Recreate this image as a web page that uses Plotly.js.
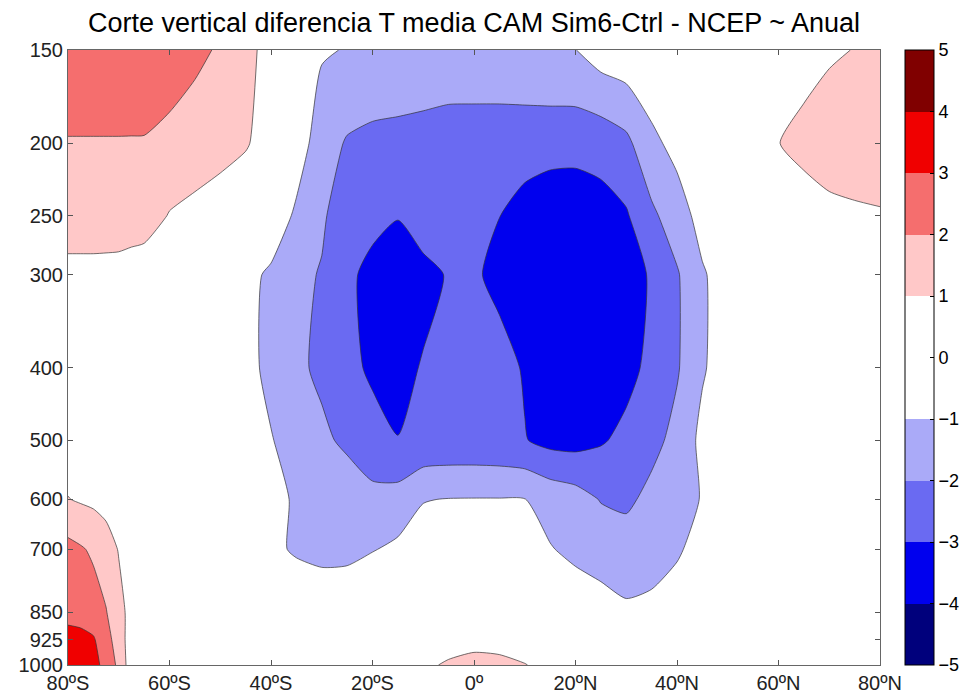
<!DOCTYPE html>
<html>
<head>
<meta charset="utf-8">
<script src="https://cdn.plot.ly/plotly-3.0.1.min.js"></script>
<style>html,body{margin:0;padding:0;background:#fff;}#chart{width:971px;height:695px;}</style>
</head>
<body>
<div id="chart"></div>
<script>
// Latitudes (negative = S, positive = N)
const latitudes = [-80, -77.5, -75, -72.5, -70, -67.5, -65, -60, -55, -50, -45, -40, -35, -30, -25, -20, -15, -10, -5, 0, 5, 10, 15, 20, 25, 30, 35, 40, 45, 50, 55, 60, 65, 70, 75, 80];
// Pressure levels (hPa)
const levels = [150, 200, 250, 300, 400, 500, 600, 700, 850, 925, 1000];

// Temperature difference (K), one row per pressure level
const t150  = [2.7, 2.7, 2.7, 2.65, 2.6, 2.55, 2.5, 2.3, 2.2, 1.9, 1.25, 0.7, 0.3, -0.9, -1.05, -1.15, -1.2, -1.25, -1.3, -1.3, -1.3, -1.25, -1.2, -1.02, -0.5, -0.3, -0.2, 0, 0.2, 0.35, 0.45, 0.5, 0.6, 0.9, 1.02, 1.3];
const t200  = [1.944, 1.944, 1.944, 1.948, 1.952, 1.953, 1.954, 1.85, 1.57, 1.35, 1.1, 0.5, -0.47, -1.53, -2.09, -2.26, -2.32, -2.4, -2.5, -2.51, -2.51, -2.52, -2.53, -2.63, -2.6, -2.24, -1.23, -0.7, -0.4, 0, 0.5, 0.98, 1.3, 1.4, 1.45, 1.5];
const t250  = [1.6, 1.6, 1.6, 1.6, 1.6, 1.57, 1.54, 0.94, 0.72, 0.5, 0.2, -0.3, -1.175, -1.85, -2.6, -2.65, -2.95, -2.3, -2.4, -2.6, -2.98, -3.4, -3.8, -3.7, -3.4, -3.1, -2.2, -1.45, -0.65, -0.2, 0.1, 0.3, 0.5, 0.8, 0.88, 0.93];
const t300  = [0.67, 0.67, 0.67, 0.65, 0.62, 0.5, 0.39, 0.2, 0.1, 0, -0.7, -1.17, -1.75, -2.07, -2.75, -3.35, -3.6, -3.4, -2.9, -2.85, -3.3, -3.8, -3.85, -3.85, -3.7, -3.4, -2.9, -2.1, -1.1, -0.55, -0.3, -0.1, 0, 0.2, 0.3, 0.4];
const t400  = [0.3, 0.3, 0.3, 0.28, 0.25, 0.22, 0.2, 0.1, 0, -0.2, -0.7, -1.25, -1.8, -2.2, -2.7, -3.18, -3.4, -2.9, -2.5, -2.4, -2.6, -3.1, -3.6, -3.8, -3.7, -3.3, -2.75, -2.1, -1.1, -0.5, -0.3, -0.1, 0, 0.1, 0.2, 0.2];
const t500  = [0.5, 0.47, 0.45, 0.4, 0.35, 0.3, 0.25, 0.15, 0.05, -0.1, -0.4, -0.95, -1.4, -1.8, -2.2, -2.6, -2.97, -2.8, -2.75, -2.75, -2.8, -2.95, -3.3, -3.35, -3.1, -2.75, -2.3, -1.7, -0.75, -0.3, -0.1, 0, 0.1, 0.2, 0.3, 0.3];
const t600  = [1.03, 0.9, 0.8, 0.65, 0.5, 0.4, 0.3, 0.1, 0, -0.1, -0.2, -0.75, -1.1, -1.35, -1.4, -1.73, -1.6, -1.035, -0.97, -0.96, -0.96, -0.98, -1.33, -1.57, -2.05, -2.2, -1.72, -1.35, -0.95, -0.5, -0.3, -0.1, 0, 0.1, 0.2, 0.2];
const t700  = [2.3, 2.1, 1.85, 1.45, 0.95, 0.7, 0.6, 0.4, 0.2, 0.1, -0.3, -0.7, -1.17, -1.4, -1.35, -1.05, -0.8, -0.6, -0.5, -0.45, -0.5, -0.7, -0.95, -1.2, -1.4, -1.5, -1.45, -1.1, -0.7, -0.4, -0.2, -0.1, 0, 0.1, 0.1, 0.1];
const t850  = [2.65, 2.6, 2.43, 2.05, 1.3, 0.7, 0.45, 0.3, 0.2, 0.1, 0.05, 0, 0.1, 0, 0, 0.1, 0.1, 0.1, 0.15, 0.2, 0.2, 0.1, -0.2, -0.46, -0.62, -0.86, -0.74, -0.6, -0.3, -0.2, -0.1, 0, 0.05, 0.1, 0.1, 0.1];
const t925  = [3.4, 3.3, 3.1, 2.4, 1.5, 0.5, 0.3, 0.2, 0.1, 0.1, 0.1, 0.1, 0.1, 0.1, 0.1, 0.1, 0.1, 0.1, 0.3, 0.6, 0.5, 0.3, 0.1, 0, -0.1, -0.2, -0.2, -0.1, 0, 0, 0, 0, 0.05, 0.1, 0.1, 0.1];
const t1000 = [3.8, 3.7, 3.4, 2.6, 1.8, 0.4, 0.3, 0.2, 0.2, 0.2, 0.2, 0.2, 0.2, 0.2, 0.3, 0.3, 0.4, 0.7, 1.2, 1.4, 1.35, 1.05, 0.6, 0.4, 0.2, 0.1, 0.1, 0.1, 0.1, 0.1, 0.1, 0.1, 0.1, 0.1, 0.1, 0.1];

const xTickVals = [-80, -60, -40, -20, 0, 20, 40, 60, 80];
const xTickText = ['80ºS', '60ºS', '40ºS', '20ºS', '0º', '20ºN', '40ºN', '60ºN', '80ºN'];
const yTickVals = [150, 200, 250, 300, 400, 500, 600, 700, 850, 925, 1000];
const cbTickVals = [-5, -4, -3, -2, -1, 0, 1, 2, 3, 4, 5];

// one colour per 1-K band from -5 to 5
const bandColors = ['#00007c', '#0000ee', '#6a6af2', '#aaaaf8', '#ffffff', '#ffffff', '#ffc8c8', '#f56e6e', '#f00000', '#800000'];

// colour scale for contour fill: sampled at band mid-points (-5.5 ... 5.5)
const fillColors = [bandColors[0]].concat(bandColors, [bandColors[bandColors.length - 1]]);
const fillScale = fillColors.map((c, i) => [i / (fillColors.length - 1), c]);
// stepped scale for the colour bar (-5 ... 5)
const barScale = [];
bandColors.forEach((c, i) => {
  barScale.push([i / bandColors.length, c]);
  barScale.push([(i + 1) / bandColors.length, c]);
});

const z = [t150, t200, t250, t300, t400, t500, t600, t700, t850, t925, t1000];
const smooth = 0.6;
const FONT = 'Liberation Sans, Arial, sans-serif';

const fillTrace = {
  type: 'contour', x: latitudes, y: levels, z: z,
  colorscale: fillScale, showscale: false,
  contours: {start: -5, end: 5, size: 1, coloring: 'fill', showlines: false},
  line: {width: 0, smoothing: smooth},
  hoverinfo: 'skip'
};
function lineTrace(start, end) {
  return {
    type: 'contour', x: latitudes, y: levels, z: z,
    contours: {start: start, end: end, size: 1, coloring: 'none'},
    line: {color: '#333333', width: 0.7, smoothing: smooth},
    showscale: false, hoverinfo: 'skip'
  };
}
// invisible carrier trace for the discrete colour bar
const barTrace = {
  type: 'scatter', mode: 'markers', x: [-300], y: [500], cliponaxis: true,
  marker: {
    size: 1, opacity: 0, line: {width: 0},
    color: [0], cmin: -5, cmax: 5, colorscale: barScale, showscale: true,
    colorbar: {
      x: 905 / 971, xanchor: 'left', xref: 'container',
      y: 0.5, yanchor: 'middle', len: 1, lenmode: 'fraction',
      thickness: 29, outlinewidth: 1, outlinecolor: '#000',
      tickvals: cbTickVals, ticks: 'inside', ticklen: 4, tickcolor: '#000',
      tickfont: {family: FONT, size: 18, color: '#000'},
      xpad: 0, ypad: 0
    }
  },
  hoverinfo: 'skip'
};

const layout = {
  width: 971, height: 695,
  margin: {l: 68, r: 91, t: 50, b: 30},
  paper_bgcolor: '#fff', plot_bgcolor: '#fff',
  font: {family: FONT, size: 20, color: '#000'},
  title: {
    text: 'Corte vertical diferencia T media CAM Sim6-Ctrl - NCEP ~ Anual',
    x: 0.5, xref: 'paper', y: 1 - 23 / 695, yref: 'container', yanchor: 'middle',
    font: {family: FONT, size: 27, color: '#000'}
  },
  xaxis: {
    range: [-80, 80], tickvals: xTickVals, ticktext: xTickText,
    ticks: 'inside', ticklen: 5, tickcolor: '#555', mirror: 'ticks',
    showline: true, linecolor: '#666', linewidth: 1, showgrid: false, zeroline: false,
    tickfont: {family: FONT, size: 20, color: '#222'}
  },
  yaxis: {
    type: 'log', range: [Math.log10(1000), Math.log10(150)],
    tickvals: yTickVals, ticktext: yTickVals.map(String),
    ticks: 'inside', ticklen: 5, tickcolor: '#555', mirror: 'ticks',
    showline: true, linecolor: '#666', linewidth: 1, showgrid: false, zeroline: false,
    tickfont: {family: FONT, size: 20, color: '#222'}
  },
  showlegend: false
};

Plotly.newPlot('chart', [fillTrace, lineTrace(-5, -1), lineTrace(1, 5), barTrace], layout, {displayModeBar: false, staticPlot: true});
</script>
</body>
</html>
